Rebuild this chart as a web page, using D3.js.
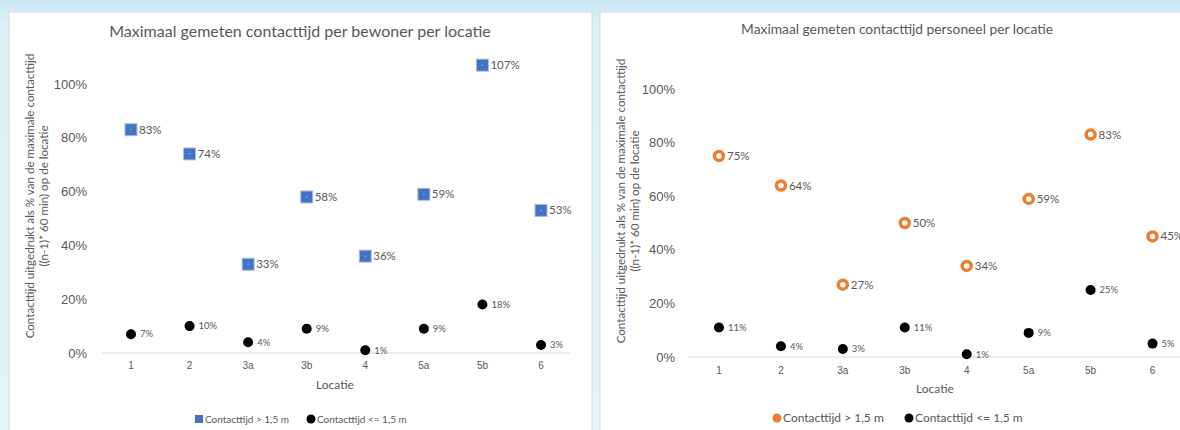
<!DOCTYPE html>
<html><head><meta charset="utf-8">
<script src="https://cdn.jsdelivr.net/npm/d3@7"></script>
<style>
html,body{margin:0;padding:0;}
svg{display:block;font-family:Lato, "Open Sans", sans-serif;}
</style></head>
<body>
<svg id="c" width="1180" height="430"></svg>
<script>
const categories = ["1","2","3a","3b","4","5a","5b","6"];
const bewonerFar  = [0.83,0.74,0.33,0.58,0.36,0.59,1.07,0.53];
const bewonerNear = [0.07,0.10,0.04,0.09,0.01,0.09,0.18,0.03];
const personeelFar  = [0.75,0.64,0.27,0.50,0.34,0.59,0.83,0.45];
const personeelNear = [0.11,0.04,0.03,0.11,0.01,0.09,0.25,0.05];
const yTicks = [0,0.2,0.4,0.6,0.8,1.0];
const titles = ["Maximaal gemeten contacttijd per bewoner per locatie","Maximaal gemeten contacttijd personeel  per locatie"];
const yTitle = ["Contacttijd uitgedrukt als % van de maximale contacttijd","((n-1)* 60 min) op de locatie"];
const xTitle = "Locatie";
const legendLabels = ["Contacttijd > 1,5 m","Contacttijd <= 1,5 m"];

const svg = d3.select("#c");
const defs = svg.append("defs");
const gr = defs.append("linearGradient").attr("id","bg").attr("x1",0).attr("y1",0).attr("x2",0).attr("y2",1);
gr.append("stop").attr("offset","0").attr("stop-color","#c9e8f2");
gr.append("stop").attr("offset","0.06").attr("stop-color","#dcf0f7");
gr.append("stop").attr("offset","1").attr("stop-color","#e2f3f9");
svg.append("rect").attr("width",1180).attr("height",430).attr("fill","url(#bg)");

const grey = "#595959";

function chart(cfg){
  const g = svg.append("g");
  g.append("rect").attr("x",cfg.px).attr("y",12).attr("width",cfg.pw).attr("height",430)
    .attr("fill","#fff").attr("stroke","#d9d9d9").attr("stroke-width",1);
  const x = d3.scaleBand().domain(categories).range(cfg.xr);
  const y = d3.scaleLinear().domain([0,1]).range(cfg.yr);
  g.append("text").attr("x",cfg.tx).attr("y",cfg.ty).attr("text-anchor","middle")
    .attr("font-size",cfg.tfs).attr("fill",grey).text(cfg.title);
  const ya = g.append("g").attr("transform",`translate(${cfg.yAxisX},0)`)
    .call(d3.axisLeft(y).tickValues(yTicks).tickSize(0).tickPadding(0).tickFormat(d3.format(".0%")));
  ya.select(".domain").remove();
  ya.selectAll("text").attr("font-size",cfg.yfs).attr("fill",grey).attr("font-family",null);
  g.append("line").attr("x1",cfg.xr[0]).attr("x2",cfg.xr[1]).attr("y1",y(0)).attr("y2",y(0))
    .attr("stroke","#d9d9d9").attr("stroke-width",1);
  const xa = g.append("g").attr("transform",`translate(0,${y(0)})`)
    .call(d3.axisBottom(x).tickSize(0).tickPadding(cfg.xpad));
  xa.select(".domain").remove();
  xa.selectAll("text").attr("font-size",cfg.xfs).attr("fill",grey).attr("font-family",null);
  g.append("text").attr("x",cfg.xtx).attr("y",cfg.xty).attr("text-anchor","middle")
    .attr("font-size",cfg.atfs).attr("fill",grey).text(xTitle);
  yTitle.forEach((t,i)=>{
    g.append("text").attr("transform",`translate(${cfg.ytx + i*14},${cfg.yty}) rotate(-90)`)
      .attr("text-anchor","middle").attr("font-size",cfg.ytfs).attr("fill",grey).text(t);
  });
  const cx = d => x(d) + x.bandwidth()/2;
  const near = g.append("g");
  categories.forEach((c,i)=>{
    const v = cfg.near[i];
    near.append("circle").attr("cx",cx(c)).attr("cy",y(v)).attr("r",5).attr("fill","#000");
    near.append("text").attr("x",cx(c)+9).attr("y",y(v)).attr("dy","0.35em")
      .attr("font-size",cfg.nlfs).attr("fill",grey).text(d3.format(".0%")(v));
  });
  const far = g.append("g");
  categories.forEach((c,i)=>{
    const v = cfg.far[i];
    if(cfg.kind==="square"){
      far.append("rect").attr("x",cx(c)-6).attr("y",y(v)-6).attr("width",12).attr("height",12)
        .attr("fill","#4472c4").attr("stroke","#a9bde4").attr("stroke-width",1);
      far.append("rect").attr("x",cx(c)-0.5).attr("y",y(v)-0.5).attr("width",1).attr("height",1).attr("fill","#dfe7f6");
    } else {
      far.append("circle").attr("cx",cx(c)).attr("cy",y(v)).attr("r",4.5)
        .attr("fill","#fff").attr("stroke","#ed7d31").attr("stroke-width",3.5);
    }
    far.append("text").attr("x",cx(c)+8).attr("y",y(v)).attr("dy","0.35em")
      .attr("font-size",cfg.flfs).attr("fill",grey).text(d3.format(".0%")(v));
  });
  const lg = g.append("g");
  if(cfg.kind==="square"){
    lg.append("rect").attr("x",cfg.lx[0]-4).attr("y",cfg.ly-4).attr("width",8).attr("height",8).attr("fill","#4472c4");
  } else {
    lg.append("circle").attr("cx",cfg.lx[0]).attr("cy",cfg.ly).attr("r",4.5).attr("fill","#ed7d31");
  }
  lg.append("circle").attr("cx",cfg.lx[1]).attr("cy",cfg.ly).attr("r",4.5).attr("fill","#000");
  legendLabels.forEach((t,i)=>{
    lg.append("text").attr("x",cfg.lx[i]+6).attr("y",cfg.ly).attr("dy","0.35em")
      .attr("font-size",cfg.lfs).attr("fill",grey).text(t);
  });
}

chart({px:9, pw:583, xr:[101.7,570.3], yr:[353,84], title:titles[0], tx:300, ty:37, tfs:16,
  yAxisX:87, yfs:13, xpad:9, xfs:10, xtx:335, xty:389, atfs:12, ytx:34, yty:196, ytfs:11.6,
  near:bewonerNear, far:bewonerFar, kind:"square", nlfs:9.5, flfs:11.5, lx:[199,311], ly:419, lfs:10});
chart({px:600, pw:590, xr:[688,1183.5], yr:[357,89], title:titles[1], tx:897, ty:34, tfs:13.8,
  yAxisX:675, yfs:13, xpad:10, xfs:10, xtx:935, xty:393, atfs:12, ytx:625, yty:201, ytfs:11.6,
  near:personeelNear, far:personeelFar, kind:"ring", nlfs:9.5, flfs:11.5, lx:[777,909], ly:418, lfs:12});
</script>
</body></html>
